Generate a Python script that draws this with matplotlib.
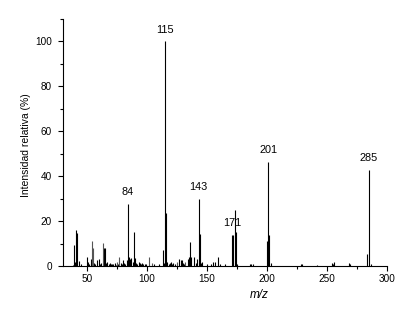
import matplotlib
matplotlib.use("Agg")
import matplotlib.pyplot as plt
from matplotlib.ticker import MultipleLocator

# m/z values and relative intensities (%) - black peaks
mz = [38, 39, 40, 41, 42, 43, 45, 50, 51, 52, 53, 56, 57, 58, 60, 61, 62, 64, 65, 66, 67, 68,
      69, 70, 71, 72, 73, 74, 76, 78, 79, 80, 81, 82, 83, 84, 85, 86, 87, 88, 89, 90, 91, 92,
      93, 94, 95, 96, 97, 98, 99, 106, 110, 113, 114, 115, 116, 117, 118, 119, 120, 121, 122,
      123, 127, 128, 129, 130, 131, 134, 135, 136, 137, 139, 141, 142, 143, 144, 145, 146,
      150, 153, 155, 157, 159, 161, 165, 171, 172, 173, 174, 175, 186, 187, 188, 200, 201,
      202, 203, 228, 229, 242, 254, 255, 256, 268, 269, 283, 285, 287]
inten = [0.5, 9.3, 2.0, 16.0, 14.8, 2.2, 0.8, 3.8, 2.0, 1.0, 3.0, 1.5, 0.8, 2.5, 3.0, 1.0,
         1.5, 7.8, 8.0, 1.5, 2.0, 1.0, 1.5, 0.8, 1.0, 0.8, 1.2, 0.6, 1.0, 1.5, 1.0, 2.5, 1.5,
         1.0, 2.5, 27.5, 4.0, 3.0, 3.5, 2.0, 15.2, 3.5, 1.5, 1.0, 2.0, 1.5, 1.0, 1.2, 1.0, 0.8,
         1.0, 1.0, 1.0, 7.0, 1.5, 100.0, 23.8, 2.0, 1.0, 1.5, 2.0, 1.0, 1.5, 0.8, 3.0, 2.5,
         2.5, 1.5, 1.0, 3.0, 4.0, 10.8, 4.0, 4.0, 1.5, 3.0, 29.8, 14.2, 1.5, 2.0, 1.0, 1.0,
         2.0, 2.0, 3.8, 1.0, 0.8, 13.8, 13.8, 25.0, 15.0, 1.0, 0.8, 0.8, 0.8, 11.2, 46.2,
         13.8, 1.5, 0.8, 0.8, 0.6, 1.5, 1.0, 2.0, 1.5, 0.8, 5.3, 42.7, 1.0]

# gray peaks
mz_gray = [54, 55, 63, 75, 77, 102, 104, 125, 132]
inten_gray = [11.0, 7.8, 10.4, 2.0, 4.0, 4.0, 1.5, 2.0, 2.0]

# labelled peaks
label_mz = [84, 115, 143, 171, 201, 285]
label_int = [27.5, 100.0, 29.8, 13.8, 46.2, 42.7]
label_txt = ["84", "115", "143", "171", "201", "285"]

plt.rcParams['font.family'] = ['Liberation Sans', 'DejaVu Sans']

fig = plt.figure(figsize=(4.13, 3.16), dpi=100)
ax = fig.add_axes([63/413, 50/316, (387-63)/413, (266-19)/316])

ax.vlines(mz, 0, inten, colors='black', linewidth=0.8)
ax.vlines(mz_gray, 0, inten_gray, colors='#555555', linewidth=0.8)

for x, y, t in zip(label_mz, label_int, label_txt):
    ax.annotate(t, xy=(x, y), xytext=(0, 8.5), textcoords='offset points',
                ha='center', va='center', fontsize=7.8)

ax.set_xlim(30, 300)
ax.set_ylim(0, 110)
ax.xaxis.set_major_locator(MultipleLocator(50))
ax.xaxis.set_minor_locator(MultipleLocator(25))
ax.yaxis.set_major_locator(MultipleLocator(20))
ax.yaxis.set_minor_locator(MultipleLocator(10))

for s in ['top', 'right']:
    ax.spines[s].set_visible(False)
for s in ['left', 'bottom']:
    ax.spines[s].set_linewidth(0.8)

ax.tick_params(axis='both', which='major', direction='out', length=3.6, width=0.8,
               labelsize=7.2)
ax.tick_params(axis='both', which='minor', direction='out', length=2.2, width=0.8)
ax.tick_params(axis='y', which='major', pad=4.5)
ax.tick_params(axis='x', which='major', pad=1.8)

ax.set_ylabel("Intensidad relativa (%)", fontsize=7.5)
ax.set_xlabel("m/z", fontsize=8.5, style='italic')
ax.yaxis.set_label_coords((31-63)/(387-63), 0.49)
ax.xaxis.set_label_coords((259-63)/(387-63), -(289-266)/(266-19))

fig.savefig("out.png", dpi=100)
